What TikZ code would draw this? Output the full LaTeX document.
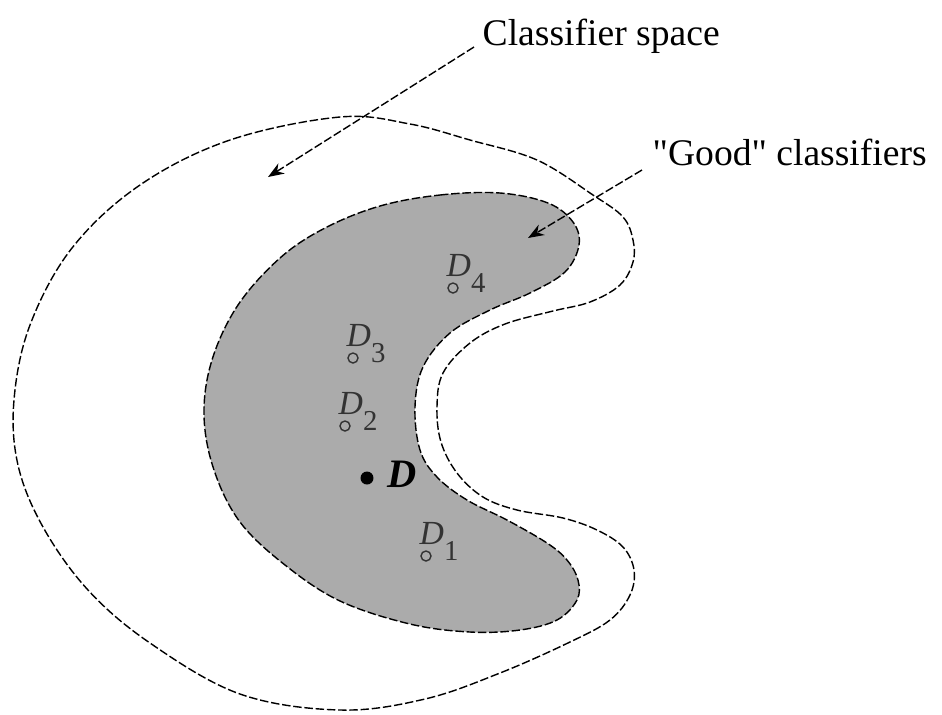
\documentclass[tikz,border=0pt]{standalone}
\usepackage{fontspec}
\setmainfont{Liberation Serif}
\usepackage{xcolor}
\usepackage{tikz}
\usetikzlibrary{arrows.meta}

\begin{document}
\begin{tikzpicture}[x=0.1mm,y=-0.1mm,
    outline/.style={line width=0.4pt,dash pattern=on 2.4pt off 0.8pt},
    ptr/.style={outline,-{Stealth[length=1.6mm,width=1.2mm]}},
    txt/.style={font=\fontsize{10.7}{12}\selectfont,inner sep=0pt,anchor=base west},
    dlabel/.style={font=\fontsize{9.6}{11}\selectfont,text=black!80,inner sep=0pt,anchor=base west},
    sample/.style={circle,draw=black!80,line width=0.4pt,inner sep=0pt,minimum size=1mm}]
  \useasboundingbox (0,0) rectangle (942,714);
  % classifier space
  \draw[outline] plot[smooth cycle,tension=0.6] coordinates {
    (340,117) (410,124) (470,140) (537,160) (593,195) (623,217) (633,240)
    (633,262) (620,285) (590,302) (553,311) (505,324) (470,343) (443,373)
    (437,407) (441,442) (457,473) (483,497) (517,510) (563,518) (597,530)
    (623,547) (634,570) (630,595) (610,620) (570,642) (500,673) (425,699)
    (340,710) (240,694) (150,643) (88,590) (43,527) (18,465) (14,400)
    (30,325) (72,248) (140,185) (230,140)};
  % good classifiers
  \filldraw[outline,fill=black!33] plot[smooth cycle,tension=0.6] coordinates {
    (380,206) (440,195) (500,193) (548,203) (573,222) (579,245)
    (565,272) (530,293) (490,310) (450,333) (423,367) (415,407) (420,450)
    (437,477) (467,500) (507,520) (547,543) (567,560) (578,580) (577,600)
    (557,620) (520,630) (470,632) (410,624) (340,601) (285,565)
    (240,522) (214,470) (204,415) (212,360) (238,305) (280,258) (325,228)};
  % samples D_1 .. D_4
  \foreach \n/\x/\y in {1/426/556, 2/345/426, 3/353/358, 4/453/288}{
    \node[sample] (d\n) at (\x,\y) {};
    \node[dlabel] (l\n) at (\x-7,\y-12)
      {\textit{D}\raisebox{-1.6mm}{\fontsize{8.2}{9}\selectfont\n}};}
  \node[circle,fill=black,inner sep=0pt,minimum size=1.3mm] (d) at (367,478) {};
  \node[txt,font=\fontsize{11.5}{13}\selectfont\bfseries\itshape] (ld) at (387,487) {D};
  % labels and arrows
  \node[txt] (cspace) at (482,45) {Classifier space};
  \node[txt] (good) at (652,165) {\textquotedbl Good\textquotedbl{} classifiers};
  \coordinate (ta) at (268,177);
  \coordinate (tb) at (528,238);
  \draw[ptr] ([shift={(-8,2)}]cspace.base west) -- (ta);
  \draw[ptr] ([shift={(-10,5)}]good.base west) -- (tb);
\end{tikzpicture}
\end{document}
